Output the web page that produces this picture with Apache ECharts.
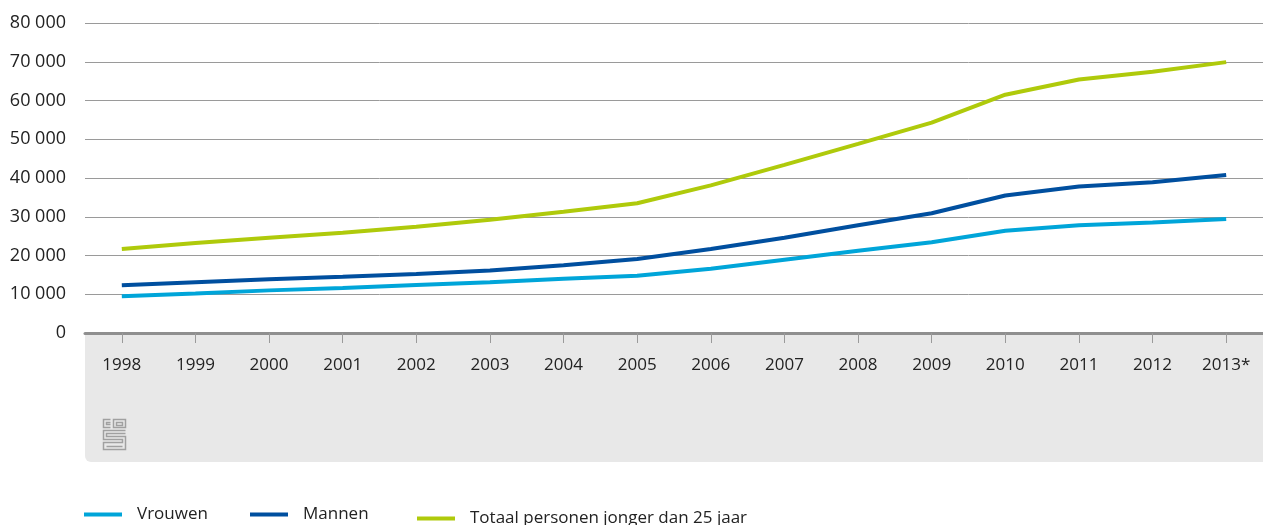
<!DOCTYPE html>
<html>
<head>
<meta charset="utf-8">
<script src="https://cdn.jsdelivr.net/npm/echarts@6/dist/echarts.min.js"></script>
<style>
html,body{margin:0;padding:0;background:#fff;}
#chart{width:1263px;height:525px;}
</style>
</head>
<body>
<div id="chart"></div>
<script>
const categories = ['1998','1999','2000','2001','2002','2003','2004','2005','2006','2007','2008','2009','2010','2011','2012','2013*'];
const vrouwen = [9500,10200,11000,11600,12400,13100,14000,14800,16600,18900,21200,23400,26400,27800,28500,29400];
const mannen = [12300,13100,13900,14500,15200,16100,17500,19100,21700,24600,27800,30900,35500,37800,38900,40800];
const totaal = [21700,23200,24600,25900,27400,29200,31300,33500,38100,43400,48800,54300,61500,65400,67400,69900];
const seriesNames = ['Vrouwen','Mannen','Totaal personen jonger dan 25 jaar'];
const colors = ['#00a5d9','#004f9f','#afca0b'];

const FONT = 'Open Sans';
const chart = echarts.init(document.getElementById('chart'), null, {renderer:'canvas'});

function legendAt(name, left, top){
  return {
    data:[{name:name, icon:'rect'}],
    left:left, top:top, padding:0,
    itemWidth:38, itemHeight:4,
    selectedMode:false,
    textStyle:{fontFamily:FONT, fontSize:17, color:'#222', padding:[0,0,0,10]}
  };
}

chart.setOption({
  animation:false,
  color:colors,
  textStyle:{fontFamily:FONT},
  grid:{left:85, right:0, top:23, bottom:192, containLabel:false},
  legend:[
    legendAt(seriesNames[0], 84, 506),
    legendAt(seriesNames[1], 250, 506),
    legendAt(seriesNames[2], 417, 510)
  ],
  xAxis:{
    type:'category',
    data:categories,
    boundaryGap:true,
    axisLine:{show:true, lineStyle:{color:'#8f8f8f', width:3}},
    axisTick:{show:true, alignWithLabel:true, length:10, lineStyle:{color:'#9a9a9a', width:1}},
    axisLabel:{fontFamily:FONT, fontSize:17, color:'#222', margin:24},
    splitLine:{show:false}
  },
  yAxis:{
    type:'value',
    min:0, max:80000, interval:10000,
    axisLine:{show:false},
    axisTick:{show:false},
    axisLabel:{fontFamily:FONT, fontSize:18, color:'#222', margin:19,
      formatter:function(v){ return String(v).replace(/\B(?=(\d{3})+(?!\d))/g,' '); }},
    splitLine:{show:true, lineStyle:{color:'#9a9a9a', width:1}}
  },
  graphic:[
    {type:'rect', z:-10, shape:{x:85, y:334, width:1178, height:128, r:[0,0,0,6]}, style:{fill:'#e8e8e8'}},
    {type:'group', left:101, top:417, z:5, children:[
      {type:'polyline', shape:{points:[[8,1],[1,1],[1,9],[8,9]]}, style:{stroke:'#a0a0a0', lineWidth:1.5, fill:null}},
      {type:'polyline', shape:{points:[[8,4],[4,4],[4,6],[8,6]]}, style:{stroke:'#a0a0a0', lineWidth:1.5, fill:null}},
      {type:'rect', shape:{x:11, y:1, width:12, height:8}, style:{stroke:'#a0a0a0', lineWidth:1.5, fill:null}},
      {type:'rect', shape:{x:14, y:4, width:6, height:3}, style:{stroke:'#a0a0a0', lineWidth:1.5, fill:null}},
      {type:'polyline', shape:{points:[[23,12],[1,12],[1,21],[20,21],[20,24],[1,24],[1,31],[23,31],[23,18],[4,18],[4,15],[23,15]]}, style:{stroke:'#a0a0a0', lineWidth:1.5, fill:null}},
      {type:'polyline', shape:{points:[[4,28],[20,28]]}, style:{stroke:'#a0a0a0', lineWidth:1.5, fill:null}}
    ]}
  ],
  series:[
    {name:seriesNames[0], type:'line', data:vrouwen, symbol:'none', lineStyle:{width:4, color:colors[0]}, z:3},
    {name:seriesNames[1], type:'line', data:mannen, symbol:'none', lineStyle:{width:4, color:colors[1]}, z:3},
    {name:seriesNames[2], type:'line', data:totaal, symbol:'none', lineStyle:{width:4, color:colors[2]}, z:3}
  ]
});
</script>
</body>
</html>
